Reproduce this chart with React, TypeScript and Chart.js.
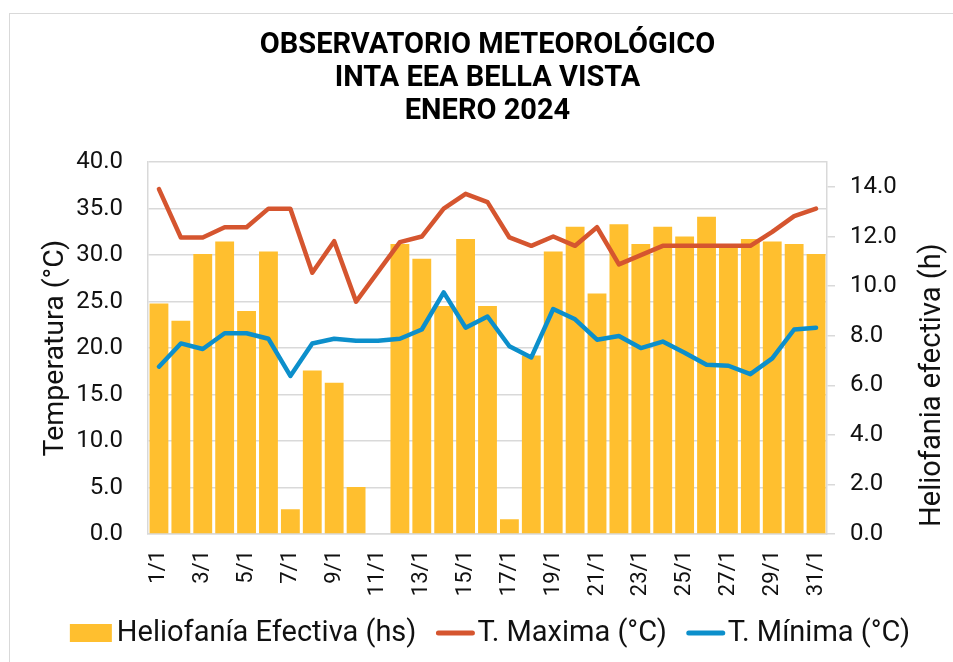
import React, { useEffect, useRef } from 'react';
import { Chart, registerables } from 'chart.js';

Chart.register(...registerables);

const categories = [
  '1/1', '2/1', '3/1', '4/1', '5/1', '6/1', '7/1', '8/1', '9/1', '10/1',
  '11/1', '12/1', '13/1', '14/1', '15/1', '16/1', '17/1', '18/1', '19/1', '20/1',
  '21/1', '22/1', '23/1', '24/1', '25/1', '26/1', '27/1', '28/1', '29/1', '30/1', '31/1',
];

const heliofania = [
  9.3, 8.6, 11.3, 11.8, 9.0, 11.4, 1.0, 6.6, 6.1, 1.9,
  0, 11.7, 11.1, 9.2, 11.9, 9.2, 0.6, 7.2, 11.4, 12.4,
  9.7, 12.5, 11.7, 12.4, 12.0, 12.8, 11.6, 11.9, 11.8, 11.7, 11.3,
];

const tMaxima = [
  37.1, 31.9, 31.9, 33.0, 33.0, 35.0, 35.0, 28.1, 31.5, 25.0,
  28.2, 31.4, 32.0, 35.0, 36.6, 35.7, 31.9, 31.0, 32.0, 31.0,
  33.0, 29.0, 30.0, 31.0, 31.0, 31.0, 31.0, 31.0, 32.5, 34.2, 35.0,
];

const tMinima = [
  18.0, 20.5, 19.9, 21.6, 21.6, 21.0, 17.0, 20.5, 21.0, 20.8,
  20.8, 21.0, 22.0, 26.0, 22.2, 23.4, 20.2, 19.0, 24.2, 23.1,
  20.9, 21.3, 20.0, 20.7, 19.5, 18.2, 18.1, 17.2, 18.9, 22.0, 22.2,
];

const heliofaniaTicks = [0, 2, 4, 6, 8, 10, 12, 14];

const titleLines = ['OBSERVATORIO METEOROLÓGICO', 'INTA EEA BELLA VISTA', 'ENERO 2024'];
const seriesLabels = ['Heliofanía Efectiva (hs)', 'T. Maxima (°C)', 'T. Mínima (°C)'];
const leftAxisTitle = 'Temperatura (°C)';
const rightAxisTitle = 'Heliofania efectiva (h)';

const FONT = 'Roboto';
const TEXT = '#111111';
const GRID = '#d9d9d9';
const BAR = '#FFBF2F';
const RED = '#D5552F';
const BLUE = '#0C8FCB';

const CANVAS_W = 975;
const CANVAS_H = 662;

const decorPlugin = {
  id: 'decor',
  afterDraw(chart: any) {
    const ctx = chart.ctx as CanvasRenderingContext2D;
    const area = chart.chartArea;
    ctx.save();
    // right axis title (reads bottom to top)
    ctx.font = `29px ${FONT}`;
    ctx.fillStyle = TEXT;
    ctx.textAlign = 'center';
    ctx.textBaseline = 'middle';
    ctx.translate(933, (area.top + area.bottom) / 2 + 37);
    ctx.rotate(-Math.PI / 2);
    ctx.fillText(rightAxisTitle, 0, 0);
    ctx.restore();

    // legend
    ctx.save();
    ctx.font = `29px ${FONT}`;
    ctx.textBaseline = 'middle';
    ctx.textAlign = 'left';
    const ds = chart.data.datasets;
    const items = ds.map((d: any, i: number) => ({
      label: d.label,
      type: i === 0 ? 'box' : 'line',
      color: i === 0 ? d.backgroundColor : d.borderColor,
      markerW: i === 0 ? 42 : 38,
      gap: i === 0 ? 5 : 3,
      textW: ctx.measureText(d.label).width,
    }));
    const spacing = 20;
    let total = 0;
    items.forEach((it: any, i: number) => {
      total += it.markerW + it.gap + it.textW + (i < items.length - 1 ? spacing : 0);
    });
    let x = 490 - total / 2;
    const y = 633;
    items.forEach((it: any) => {
      if (it.type === 'box') {
        ctx.fillStyle = it.color;
        ctx.fillRect(x, y - 9, it.markerW, 18);
      } else {
        ctx.strokeStyle = it.color;
        ctx.lineWidth = 5;
        ctx.lineCap = 'round';
        ctx.beginPath();
        ctx.moveTo(x + 2, y);
        ctx.lineTo(x + it.markerW - 2, y);
        ctx.stroke();
      }
      x += it.markerW + it.gap;
      ctx.fillStyle = TEXT;
      ctx.fillText(it.label, x, y + 1);
      x += it.textW + spacing;
    });
    ctx.restore();
  },
};

export default function App() {
  const ref = useRef<HTMLCanvasElement>(null);

  useEffect(() => {
    if (!ref.current) return;
    const chart = new Chart(ref.current, {
      type: 'bar',
      data: {
        labels: categories,
        datasets: [
          {
            type: 'bar',
            label: seriesLabels[0],
            data: heliofania,
            backgroundColor: BAR,
            yAxisID: 'y1',
            barPercentage: 0.86,
            categoryPercentage: 1,
            order: 3,
          },
          {
            type: 'line',
            label: seriesLabels[1],
            data: tMaxima,
            borderColor: RED,
            backgroundColor: RED,
            borderWidth: 4.5,
            pointRadius: 0,
            borderJoinStyle: 'round',
            borderCapStyle: 'round',
            yAxisID: 'y',
            order: 1,
          },
          {
            type: 'line',
            label: seriesLabels[2],
            data: tMinima,
            borderColor: BLUE,
            backgroundColor: BLUE,
            borderWidth: 4.5,
            pointRadius: 0,
            borderJoinStyle: 'round',
            borderCapStyle: 'round',
            yAxisID: 'y',
            order: 2,
          },
        ] as any,
      },
      options: {
        responsive: false,
        animation: false,
        layout: { padding: { left: 0, right: 0, top: 0, bottom: 58 } },
        plugins: {
          legend: { display: false },
          tooltip: { enabled: false },
          title: {
            display: true,
            text: titleLines,
            color: '#000',
            font: { family: FONT, size: 29, weight: 'bold', lineHeight: 1.14 },
            padding: { top: 29.5, bottom: 33.5 },
          },
        },
        scales: {
          x: {
            type: 'category',
            grid: { display: false, drawTicks: false },
            border: { display: true, color: GRID, width: 1.5 },
            ticks: {
              autoSkip: false,
              maxRotation: 90,
              minRotation: 90,
              padding: 16,
              color: TEXT,
              font: { family: FONT, size: 22 },
              callback: (_v: any, i: number) => (i % 2 === 0 ? categories[i] : ''),
            },
            afterFit: (s: any) => {
              s.height = 70;
            },
          },
          y: {
            position: 'left',
            min: 0,
            max: 40,
            ticks: {
              stepSize: 5,
              padding: 25,
              color: TEXT,
              font: { family: FONT, size: 24 },
              callback: (v: any) => Number(v).toFixed(1),
            },
            grid: { color: GRID, lineWidth: 1.5, drawTicks: false },
            border: { display: true, color: GRID, width: 1.5 },
            title: {
              display: true,
              text: leftAxisTitle,
              color: TEXT,
              font: { family: FONT, size: 28.5 },
              padding: { top: 39, bottom: 0 },
            },
            afterFit: (s: any) => {
              s.width = 148;
            },
          },
          y1: {
            position: 'right',
            min: 0,
            max: 15,
            ticks: {
              padding: 15,
              color: TEXT,
              font: { family: FONT, size: 24 },
              callback: (v: any) => Number(v).toFixed(1),
            },
            afterBuildTicks: (s: any) => {
              s.ticks = heliofaniaTicks.map((v) => ({ value: v }));
            },
            grid: { drawOnChartArea: false, drawTicks: true, tickLength: 8, color: GRID, lineWidth: 1.5 },
            border: { display: true, color: GRID, width: 1.5 },
            afterFit: (s: any) => {
              s.width = CANVAS_W - 827;
            },
          },
        },
      } as any,
      plugins: [decorPlugin],
    });
    return () => chart.destroy();
  }, []);

  return (
    <div style={{ position: 'fixed', left: 0, top: 0, width: 953, height: 662, background: '#fff', overflow: 'hidden' }}>
      <div
        style={{
          position: 'absolute',
          left: 9,
          top: 13,
          width: 980,
          height: 700,
          border: '1px solid #d9d9d9',
          boxSizing: 'border-box',
        }}
      />
      <canvas
        ref={ref}
        width={CANVAS_W}
        height={CANVAS_H}
        style={{ position: 'absolute', left: 0, top: 0, width: CANVAS_W, height: CANVAS_H }}
      />
    </div>
  );
}
